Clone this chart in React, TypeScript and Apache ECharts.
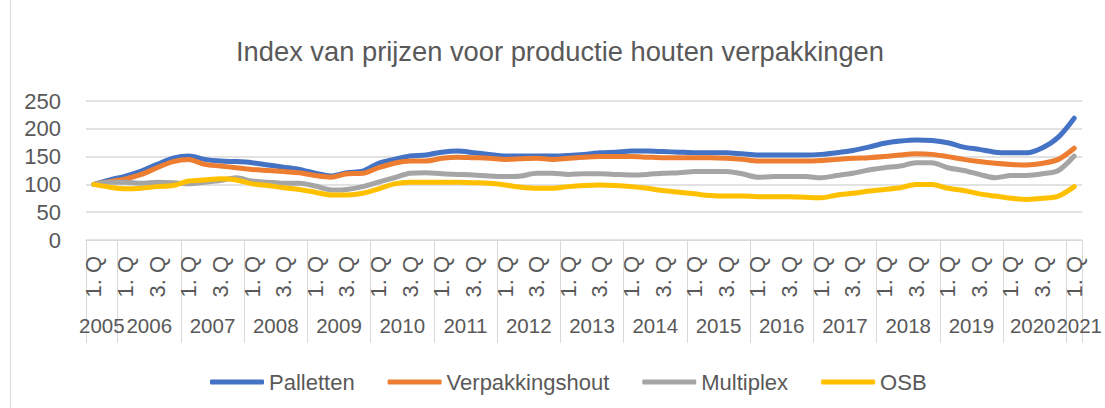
import React, { useEffect, useRef } from 'react';
import * as echarts from 'echarts';

const years = ['2005', '2006', '2007', '2008', '2009', '2010', '2011', '2012', '2013', '2014', '2015', '2016', '2017', '2018', '2019', '2020', '2021'];
const quartersInYear = [2, 4, 4, 4, 4, 4, 4, 4, 4, 4, 4, 4, 4, 4, 4, 4, 1];
const quarterNames = ['1. Q', '2. Q', '3. Q', '4. Q'];

const palletten = [
  100, 108, 115, 124, 136, 147, 151, 145, 142, 141, 139, 135, 131,
  127, 120, 115, 121, 124, 138, 145, 151, 153, 158, 160, 157, 154,
  151, 151, 151, 151, 152, 154, 157, 158, 160, 160, 159, 158,
  157, 157, 157, 155, 153, 153, 153, 153, 154, 157, 161, 167, 174,
  178, 180, 179, 175, 167, 163, 158, 157, 157, 166, 185, 219,
];
const verpakkingshout = [
  100, 105, 110, 118, 130, 141, 145, 136, 133, 130, 127, 125, 123,
  121, 116, 113, 119, 120, 130, 138, 142, 142, 147, 149, 148, 147,
  145, 146, 147, 145, 147, 149, 150, 150, 150, 149, 148, 148,
  148, 148, 147, 145, 142, 142, 142, 142, 143, 145, 147, 148, 150,
  153, 155, 154, 150, 145, 141, 138, 136, 135, 138, 145, 165,
];
const multiplex = [
  100, 104, 104, 102, 104, 103, 101, 104, 107, 112, 106, 104, 102,
  102, 97, 90, 91, 96, 104, 112, 120, 121, 119, 118, 117, 115,
  114, 115, 120, 120, 118, 119, 119, 118, 117, 118, 120, 121,
  123, 123, 123, 119, 113, 114, 114, 114, 112, 116, 120, 126, 130,
  133, 139, 139, 130, 125, 118, 112, 116, 116, 119, 125, 151,
];
const osb = [
  100, 95, 92, 93, 96, 98, 106, 108, 110, 108, 101, 98, 94,
  91, 86, 81, 81, 84, 92, 101, 104, 104, 104, 104, 103, 102,
  99, 95, 93, 93, 96, 98, 99, 98, 96, 93, 89, 86,
  83, 80, 79, 79, 78, 78, 78, 77, 76, 81, 84, 88, 91,
  94, 100, 100, 93, 89, 83, 79, 75, 73, 75, 79, 96,
];

const seriesNames = ['Palletten', 'Verpakkingshout', 'Multiplex', 'OSB'];
const seriesColors = ['#4472C4', '#ED7D31', '#A5A5A5', '#FFC000'];

const W = 1105;
const H = 408;
const FONT = '"Liberation Sans", Arial, sans-serif';
const TXT = '#595959';
const GRIDC = '#d9d9d9';

export default function App() {
  const ref = useRef<HTMLDivElement>(null);
  useEffect(() => {
    const chart = echarts.init(ref.current!, null, { renderer: 'svg' });

    const cats: string[] = [];
    const catYear: string[] = [];
    const yearStart: boolean[] = [];
    const showYear: boolean[] = [];
    const shiftYear: boolean[] = [];
    years.forEach((y, gi) => {
      const n = quartersInYear[gi];
      for (let q = 0; q < n; q++) {
        cats.push(quarterNames[q]);
        catYear.push(y);
        yearStart.push(q === 0);
        const mid = n === 1 ? 0 : Math.floor(n / 2) - 1;
        showYear.push(q === mid);
        shiftYear.push(n % 2 === 0);
      }
    });

    const gridLeft = 86;
    const gridRight = 21;
    const band = (W - gridLeft - gridRight) / cats.length;
    const lastYear = years[years.length - 1];
    const prevYear = years[years.length - 2];

    const data = [palletten, verpakkingshout, multiplex, osb];
    const yearStyle = { fontFamily: FONT, fontSize: 20.5, color: TXT };

    chart.setOption({
      animation: false,
      backgroundColor: '#fff',
      title: {
        text: 'Index van prijzen voor productie houten verpakkingen',
        left: 231,
        top: 31,
        textStyle: { fontFamily: FONT, fontSize: 27.3, fontWeight: 'normal', color: TXT, lineHeight: 30 },
      },
      legend: {
        data: seriesNames,
        left: 205,
        top: 366,
        icon: 'roundRect',
        itemWidth: 54,
        itemHeight: 5,
        itemGap: 33,
        textStyle: { fontFamily: FONT, fontSize: 22, color: TXT },
      },
      grid: { left: gridLeft, right: gridRight, top: 101, bottom: H - 240, containLabel: false },
      xAxis: [
        {
          type: 'category',
          data: cats,
          boundaryGap: true,
          axisLine: { show: true, lineStyle: { color: GRIDC, width: 1 } },
          axisTick: {
            show: true,
            interval: (i: number) => !!yearStart[i] || i >= cats.length,
            length: 103,
            lineStyle: { color: GRIDC, width: 1 },
          },
          axisLabel: {
            interval: 1,
            rotate: 90,
            margin: 16,
            fontFamily: FONT,
            fontSize: 22,
            color: TXT,
          },
        },
        {
          type: 'category',
          data: cats,
          position: 'bottom',
          boundaryGap: true,
          axisLine: { show: false },
          axisTick: { show: false },
          axisLabel: {
            interval: 0,
            hideOverlap: false,
            margin: 75,
            formatter: (_v: string, i: number) => {
              if (!showYear[i]) return '';
              const y = catYear[i];
              if (y === lastYear) return `{r|${y}}`;
              if (y === prevYear) return `{e|${y}}`;
              return shiftYear[i] ? `{s|${y}}` : `{n|${y}}`;
            },
            rich: {
              s: { ...yearStyle, padding: [0, 0, 0, band] },
              e: { ...yearStyle, padding: [0, 0, 0, band - 4] },
              r: { ...yearStyle, padding: [0, 0, 0, 10] },
              n: { ...yearStyle },
            },
          },
        },
      ],
      yAxis: {
        type: 'value',
        min: 0,
        max: 250,
        interval: 50,
        axisLine: { show: false },
        axisTick: { show: false },
        axisLabel: { margin: 25, fontFamily: FONT, fontSize: 22, color: TXT },
        splitLine: { lineStyle: { color: GRIDC, width: 1.5 } },
      },
      series: seriesNames.map((name, k) => ({
        name,
        type: 'line',
        data: data[k],
        xAxisIndex: 0,
        smooth: 0.3,
        symbol: 'none',
        color: seriesColors[k],
        itemStyle: { color: seriesColors[k] },
        lineStyle: { width: 5, color: seriesColors[k], cap: 'round', join: 'round' },
      })),
      graphic: [
        {
          type: 'line',
          shape: { x1: 10.5, y1: 0, x2: 10.5, y2: H },
          style: { stroke: GRIDC, lineWidth: 1 },
          silent: true,
        },
      ],
    });

    return () => chart.dispose();
  }, []);

  return (
    <div
      ref={ref}
      style={{ position: 'absolute', left: 0, top: 0, width: W, height: H }}
    />
  );
}
